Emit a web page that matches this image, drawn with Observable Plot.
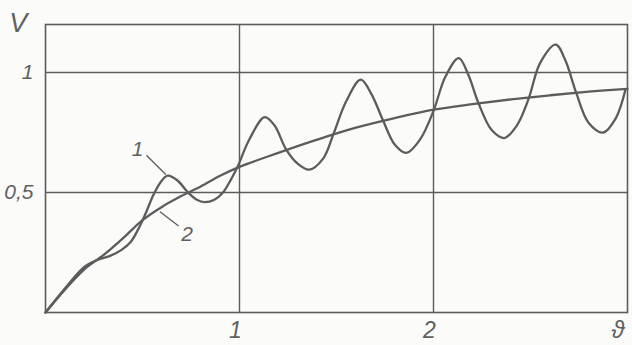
<!DOCTYPE html>
<html>
<head>
<meta charset="utf-8">
<script src="https://cdn.jsdelivr.net/npm/d3@7"></script>
<script src="https://cdn.jsdelivr.net/npm/@observablehq/plot@0.6"></script>
<style>
  html, body { margin: 0; padding: 0; background: #fbfbf9; }
  svg { display: block; }
</style>
</head>
<body>
<div id="chart"></div>
<script>
// Curve 1: oscillating response (ϑ, V)
const curve1X = [0, 0.1, 0.2, 0.27, 0.33, 0.39, 0.44, 0.48, 0.52, 0.556, 0.6, 0.63, 0.68, 0.735, 0.78, 0.82, 0.87, 0.915, 0.96, 0.99, 1.05, 1.13, 1.18, 1.24, 1.3, 1.36, 1.43, 1.485, 1.55, 1.625, 1.68, 1.74, 1.8, 1.86, 1.93, 2.0, 2.06, 2.13, 2.18, 2.23, 2.3, 2.365, 2.43, 2.49, 2.55, 2.63, 2.68, 2.735, 2.8, 2.875, 2.94, 2.99];
const curve1V = [0, 0.1, 0.19, 0.22, 0.235, 0.26, 0.295, 0.35, 0.42, 0.49, 0.55, 0.57, 0.55, 0.5, 0.47, 0.46, 0.47, 0.5, 0.56, 0.607, 0.72, 0.814, 0.78, 0.68, 0.62, 0.595, 0.64, 0.745, 0.88, 0.97, 0.91, 0.8, 0.7, 0.665, 0.72, 0.84, 0.98, 1.06, 0.99, 0.876, 0.76, 0.727, 0.78, 0.89, 1.04, 1.116, 1.05, 0.917, 0.79, 0.75, 0.81, 0.93];

// Curve 2: smooth aperiodic response (ϑ, V)
const curve2X = [0, 0.1, 0.2, 0.3, 0.4, 0.5, 0.6, 0.7, 0.8, 0.9, 1.0, 1.2, 1.4, 1.6, 1.8, 2.0, 2.2, 2.4, 2.6, 2.8, 3.0];
const curve2V = [0, 0.095, 0.18, 0.24, 0.31, 0.385, 0.44, 0.485, 0.525, 0.57, 0.607, 0.665, 0.72, 0.77, 0.81, 0.845, 0.868, 0.888, 0.905, 0.92, 0.932];

// Grid & tick values
const gridX = [1, 2];
const gridY = [0.5, 1];
const xTickLabels = ["1", "2"];
const yTickLabels = ["0,5", "1"];

// Curve labels with leader lines
const curveLabels = ["1", "2"];
const labelX = [0.475, 0.73];
const labelY = [0.68, 0.325];
const leaderX1 = [0.52, 0.59];
const leaderY1 = [0.655, 0.42];
const leaderX2 = [0.62, 0.686];
const leaderY2 = [0.575, 0.36];

const c1 = curve1X.map((x, i) => ({x, v: curve1V[i]}));
const c2 = curve2X.map((x, i) => ({x, v: curve2V[i]}));
const labels = curveLabels.map((t, i) => ({t, x: labelX[i], y: labelY[i]}));
const leaders = curveLabels.map((t, i) => ({x1: leaderX1[i], y1: leaderY1[i], x2: leaderX2[i], y2: leaderY2[i]}));

const ink = "#5c5c5c";
const txt = "#606060";
const font = "'Liberation Sans Narrow', 'Liberation Sans', 'DejaVu Sans', sans-serif";

const chart = Plot.plot({
  width: 632,
  height: 345,
  marginLeft: 45,
  marginRight: 5,
  marginTop: 24,
  marginBottom: 33,
  style: {background: "#fbfbf9", fontFamily: font},
  x: {domain: [0, 3]},
  y: {domain: [0, 1.2]},
  marks: [
    Plot.ruleX(gridX, {stroke: ink, strokeWidth: 1.4}),
    Plot.ruleY(gridY, {stroke: ink, strokeWidth: 1.4}),
    Plot.frame({stroke: ink, strokeWidth: 1.6}),
    Plot.line(c2, {x: "x", y: "v", curve: "catmull-rom", stroke: ink, strokeWidth: 2.3}),
    Plot.line(c1, {x: "x", y: "v", curve: "catmull-rom", stroke: ink, strokeWidth: 2.3}),
    Plot.link(leaders, {x1: "x1", y1: "y1", x2: "x2", y2: "y2", stroke: ink, strokeWidth: 1.3}),
    Plot.text(labels, {x: "x", y: "y", text: "t", fontSize: 21, fontStyle: "italic", fill: txt}),
    Plot.axisX(gridX, {tickSize: 0, tickPadding: 9, tickFormat: (d, i) => xTickLabels[i], fontSize: 23, fontStyle: "italic", fill: txt, label: null, dx: -4}),
    Plot.axisY(gridY, {tickSize: 0, tickPadding: 12, tickFormat: (d, i) => yTickLabels[i], fontSize: 21, fontStyle: "italic", fill: txt, label: null}),
    Plot.text(["V"], {x: -0.14, y: 1.205, text: d => d, fontSize: 27, fontStyle: "italic", fill: txt}),
    Plot.text(["ϑ"], {x: 2.95, y: 0, text: d => d, fontSize: 24, fontStyle: "italic", fill: txt, dy: 18})
  ]
});
document.getElementById("chart").appendChild(chart);
</script>
</body>
</html>
